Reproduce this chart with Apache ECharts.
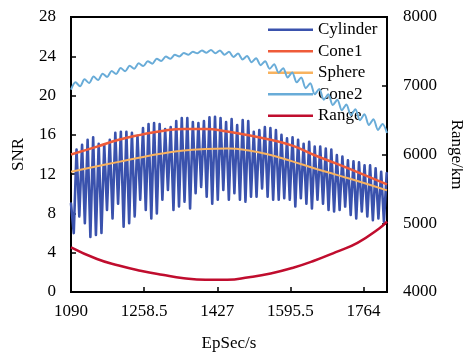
<!DOCTYPE html>
<html>
<head>
<meta charset="utf-8">
<script src="https://cdn.jsdelivr.net/npm/echarts@6/dist/echarts.min.js"></script>
<style>
  html, body { margin: 0; padding: 0; background: #fff; }
  #main { width: 463px; height: 352px; }
</style>
</head>
<body>
<div id="main"></div>
<script>
// x ticks (EpSec/s)
var xTicks = [1090, 1258.5, 1427, 1595.5, 1764];

// Cylinder: fast oscillation, peaks and troughs
var cylStart = 9.0;
var cylStep = 6.38;
var cylTroughs = [6.0, 7.7, 7.0, 5.6, 5.8, 6.0, 8.35, 7.5, 9.0, 6.65, 7.0, 7.7, 9.4, 8.35, 7.5, 8.0, 9.4, 10.4, 8.35, 8.7,
  9.2, 8.5, 10.05, 10.7, 9.7, 9.0, 9.4, 10.4, 9.4, 10.05, 9.4, 9.2, 9.7, 9.7, 10.55, 9.7, 9.4, 9.4, 9.55, 9.4,
  8.7, 9.55, 9.0, 8.5, 9.4, 9.0, 8.35, 8.2, 8.35, 8.7, 7.85, 7.5, 8.2, 7.7, 7.3, 7.5, 7.15];
var cylPeaks = [14.5, 15.0, 15.5, 15.75, 15.1, 15.0, 15.5, 16.2, 16.3, 16.3, 16.2, 15.9, 16.7, 17.1, 17.2, 17.1, 16.6, 16.8, 17.4, 17.7,
  17.7, 17.3, 17.2, 17.4, 17.8, 17.85, 17.7, 17.3, 17.6, 17.0, 17.5, 17.4, 16.3, 16.5, 16.8, 16.7, 16.5, 16.0, 15.65, 15.75,
  15.5, 15.1, 15.3, 14.8, 14.8, 14.6, 14.5, 13.95, 13.8, 13.4, 13.3, 13.2, 12.9, 12.9, 12.6, 12.25, 12.1];

// smooth curves
var smoothTimes = [1090, 1150, 1200, 1250, 1300, 1350, 1400, 1450, 1500, 1550, 1600, 1650, 1700, 1750, 1818];
var cone1 = [14.0, 14.8, 15.5, 16.0, 16.4, 16.6, 16.6, 16.35, 15.95, 15.5, 14.9, 13.95, 13.1, 12.2, 10.95];
var sphere = [12.25, 12.8, 13.25, 13.7, 14.1, 14.4, 14.55, 14.6, 14.4, 13.95, 13.3, 12.6, 11.95, 11.3, 10.35];

// Cone2: small ripple, lows and highs per cycle
var cone2Step = 20.8;
var cone2Lows = [20.6, 20.95, 21.28, 21.58, 21.9, 22.2, 22.48, 22.73, 23.0, 23.25, 23.53, 23.75, 23.98, 24.15, 24.3, 24.35, 24.3,
  24.15, 23.93, 23.68, 23.4, 23.1, 22.73, 22.33, 21.85, 21.35, 20.75, 20.13, 19.58, 19.03, 18.5, 18.0, 17.5, 17.0, 16.5];
var cone2Highs = [21.35, 21.65, 21.93, 22.23, 22.5, 22.8, 23.03, 23.28, 23.5, 23.75, 23.98, 24.15, 24.33, 24.45, 24.6, 24.65, 24.6,
  24.45, 24.28, 24.03, 23.8, 23.5, 23.18, 22.78, 22.35, 21.85, 21.25, 20.68, 20.13, 19.58, 19.1, 18.6, 18.1, 17.6, 17.1];
var cone2End = 16.2;

// Range (km), right axis
var rangeTimes = [1090, 1150, 1200, 1250, 1300, 1350, 1400, 1450, 1500, 1550, 1600, 1650, 1700, 1750, 1800, 1818];
var rangeKm = [4650, 4480, 4385, 4310, 4250, 4200, 4178, 4178, 4215, 4270, 4350, 4455, 4580, 4715, 4925, 5025];

var font = 'Liberation Serif';

var cylData = [[1090, cylStart]];
for (var i = 0; i < cylPeaks.length; i++) {
  cylData.push([1090 + (2 * i + 1) * cylStep, cylTroughs[i]]);
  cylData.push([1090 + (2 * i + 2) * cylStep, cylPeaks[i]]);
}
var cone2Data = [];
for (var i = 0; i < cone2Lows.length; i++) {
  cone2Data.push([1090 + i * cone2Step, cone2Lows[i]]);
  cone2Data.push([1090 + i * cone2Step + cone2Step / 2, cone2Highs[i]]);
}
cone2Data.push([1818, cone2End]);

function pairs(xs, ys) {
  return xs.map(function (x, k) { return [x, ys[k]]; });
}

var chart = echarts.init(document.getElementById('main'));
chart.setOption({
  animation: false,
  backgroundColor: '#fff',
  grid: {
    left: 71, right: 76, top: 17, bottom: 60,
    outerBoundsMode: 'none', containLabel: false,
    show: true, borderColor: '#000', borderWidth: 2
  },
  legend: {
    left: 263, top: 15, orient: 'vertical',
    icon: 'rect', itemWidth: 45, itemHeight: 2.5, itemGap: 2,
    textStyle: { fontFamily: font, fontSize: 17, color: '#000', lineHeight: 19.5 },
    data: ['Cylinder', 'Cone1', 'Sphere', 'Cone2', 'Range']
  },
  xAxis: {
    type: 'value', min: 1090, max: 1818, interval: 168.5,
    name: 'EpSec/s', nameLocation: 'middle', nameGap: 43,
    nameTextStyle: { fontFamily: font, fontSize: 17, color: '#000' },
    axisLine: { lineStyle: { color: '#000', width: 2 } },
    axisTick: { inside: true, length: 5, lineStyle: { color: '#000', width: 1.5 } },
    axisLabel: {
      margin: 11, fontFamily: font, fontSize: 17, color: '#000', showMaxLabel: false,
      formatter: function (v) { return xTicks.indexOf(v) >= 0 ? String(v) : ''; }
    },
    splitLine: { show: false }
  },
  yAxis: [{
    type: 'value', min: 0, max: 28, interval: 4,
    name: 'SNR', nameLocation: 'middle', nameGap: 44,
    nameTextStyle: { fontFamily: font, fontSize: 17, color: '#000' },
    axisLine: { show: true, lineStyle: { color: '#000', width: 2 } },
    axisTick: { show: true, inside: true, length: 5, lineStyle: { color: '#000', width: 1.5 } },
    axisLabel: { margin: 15, fontFamily: font, fontSize: 17, color: '#000' },
    splitLine: { show: false }
  }, {
    type: 'value', min: 4000, max: 8000, interval: 1000, position: 'right',
    name: 'Range/km', nameLocation: 'middle', nameGap: 52, nameRotate: -90,
    nameTextStyle: { fontFamily: font, fontSize: 17, color: '#000' },
    axisLine: { show: true, lineStyle: { color: '#000', width: 2 } },
    axisTick: { show: true, inside: true, length: 5, lineStyle: { color: '#000', width: 1.5 } },
    axisLabel: { margin: 16, fontFamily: font, fontSize: 17, color: '#000', formatter: function (v) { return String(v); } },
    splitLine: { show: false }
  }],
  series: [{
    name: 'Cylinder', type: 'line', showSymbol: false, symbol: 'none',
    data: cylData, color: '#3a52ad',
    lineStyle: { width: 2.6, color: '#3a52ad', cap: 'round', join: 'round' }
  }, {
    name: 'Cone1', type: 'line', showSymbol: false, symbol: 'none', smooth: true,
    data: pairs(smoothTimes, cone1), color: '#ef5b39',
    lineStyle: { width: 2.5, color: '#ef5b39' }
  }, {
    name: 'Sphere', type: 'line', showSymbol: false, symbol: 'none', smooth: true,
    data: pairs(smoothTimes, sphere), color: '#f8b25e',
    lineStyle: { width: 2, color: '#f8b25e' }
  }, {
    name: 'Cone2', type: 'line', showSymbol: false, symbol: 'none', smooth: 0.3,
    data: cone2Data, color: '#69acd8', z: 5,
    lineStyle: { width: 2, color: '#69acd8' }
  }, {
    name: 'Range', type: 'line', yAxisIndex: 1, showSymbol: false, symbol: 'none', smooth: true,
    data: pairs(rangeTimes, rangeKm), color: '#c00d2e',
    lineStyle: { width: 2.5, color: '#c00d2e' }
  }]
});
</script>
</body>
</html>
